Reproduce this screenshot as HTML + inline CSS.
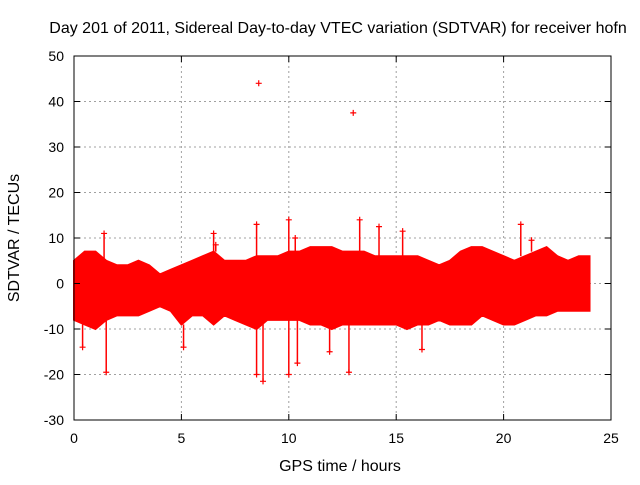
<!DOCTYPE html>
<html><head><meta charset="utf-8"><style>
body{margin:0;background:#fff;}
svg text{font-family:"Liberation Sans",sans-serif;font-size:14px;fill:#000;}
svg text.big{font-size:16px;}
</style></head><body>
<svg id="chart" width="640" height="480" xmlns="http://www.w3.org/2000/svg">
<rect width="640" height="480" fill="#fff"/>
<g id="grid"></g><g id="band"></g><g id="pts"></g><g id="axes"></g>
<text class="big" x="338" y="33" text-anchor="middle">Day 201 of 2011, Sidereal Day-to-day VTEC variation (SDTVAR) for receiver hofn</text>
<text class="big" x="340" y="471" text-anchor="middle">GPS time / hours</text>
<text class="big" transform="translate(19,238) rotate(-90)" text-anchor="middle">SDTVAR / TECUs</text>
</svg>
<script>
const times=[0,0.5,1,1.5,2,2.5,3,3.5,4,4.5,5,5.5,6,6.5,7,7.5,8,8.5,9,9.5,10,10.5,11,11.5,12,12.5,13,13.5,14,14.5,15,15.5,16,16.5,17,17.5,18,18.5,19,19.5,20,20.5,21,21.5,22,22.5,23,23.5,24];
const upper=[5,7,7,5,4,4,5,4,2,3,4,5,6,7,5,5,5,6,6,6,7,7,8,8,8,7,7,7,6,6,6,6,6,5,4,5,7,8,8,7,6,5,6,7,8,6,5,6,6];
const lower=[-8,-9,-10,-8,-7,-7,-7,-6,-5,-6,-9,-7,-7,-9,-7,-8,-9,-10,-8,-8,-8,-8,-9,-9,-10,-9,-9,-9,-9,-9,-9,-10,-9,-9,-8,-9,-9,-9,-7,-8,-9,-9,-8,-7,-7,-6,-6,-6,-6];
const outX=[8.6,13,8.5,10,10.3,13.3,14.2,15.3,20.8,1.4,8.5,8.8,10,10.4,12.8,1.5,16.2,0.4,5.1,11.9,6.6,21.3,6.5];
const outY=[44,37.5,13,14,10,14,12.5,11.5,13,11,-20,-21.5,-20,-17.5,-19.5,-19.5,-14.5,-14,-14,-15,8.5,9.5,11];
const xTicks=[0,5,10,15,20,25];
const yTicks=[-30,-20,-10,0,10,20,30,40,50];
const NS="http://www.w3.org/2000/svg";
const X0=74,X1=611,Y0=420,Y1=56;
const sx=v=>X0+(v-0)/25*(X1-X0);
const sy=v=>Y0-(v+30)/80*(Y0-Y1);
function mk(tag,attrs,parent){const e=document.createElementNS(NS,tag);for(const k in attrs)e.setAttribute(k,attrs[k]);document.getElementById(parent).appendChild(e);return e;}
xTicks.forEach(t=>{
 if(t>0&&t<25){const g=mk('line',{x1:sx(t),x2:sx(t),y1:Y1,y2:Y0,stroke:'#a0a0a0','stroke-dasharray':'2,3'},'grid');
 
 }
 const l=mk('text',{x:sx(t),y:Y0+23,'text-anchor':'middle'},'axes');l.textContent=t;
 
 
 mk('line',{x1:sx(t),x2:sx(t),y1:Y0,y2:Y0-6,stroke:'#000'},'axes');
 mk('line',{x1:sx(t),x2:sx(t),y1:Y1,y2:Y1+6,stroke:'#000'},'axes');
});
yTicks.forEach(t=>{
 if(t>-30&&t<50){const g=mk('line',{x1:X0,x2:X1,y1:sy(t),y2:sy(t),stroke:'#a0a0a0','stroke-dasharray':'2,3'},'grid');
 
 }
 const l=mk('text',{x:X0-10,y:sy(t)+5,'text-anchor':'end'},'axes');l.textContent=t;
 
 
 mk('line',{x1:X0,x2:X0+6,y1:sy(t),y2:sy(t),stroke:'#000'},'axes');
 mk('line',{x1:X1,x2:X1-6,y1:sy(t),y2:sy(t),stroke:'#000'},'axes');
});
const fr=mk('rect',{x:X0,y:Y1,width:X1-X0,height:Y0-Y1,fill:'none',stroke:'#000'},'axes');


let d='M'+sx(times[0])+','+sy(upper[0]);
for(let i=1;i<times.length;i++)d+=' L'+sx(times[i])+','+sy(upper[i]);
for(let i=times.length-1;i>=0;i--)d+=' L'+sx(times[i])+','+sy(lower[i]);
d+='Z';
const band=mk('path',{d:d,fill:'#ff0000',stroke:'#ff0000','stroke-width':2},'band');


outX.forEach((x,i)=>{
 const cx=sx(x),cy=sy(outY[i]);
 const p=mk('path',{d:`M${cx-3},${cy}h6M${cx},${cy-3}v6`,stroke:'#ff0000','stroke-width':1.2},'pts');
 
 
 const base=outY[i]>0?sy(upper[Math.round(x*2)]):sy(lower[Math.round(x*2)]);
 if(Math.abs(outY[i])<25){const s=mk('line',{x1:cx,x2:cx,y1:cy,y2:base,stroke:'#ff0000','stroke-width':1.5},'pts');
 
 }
});
</script>
</body></html>
